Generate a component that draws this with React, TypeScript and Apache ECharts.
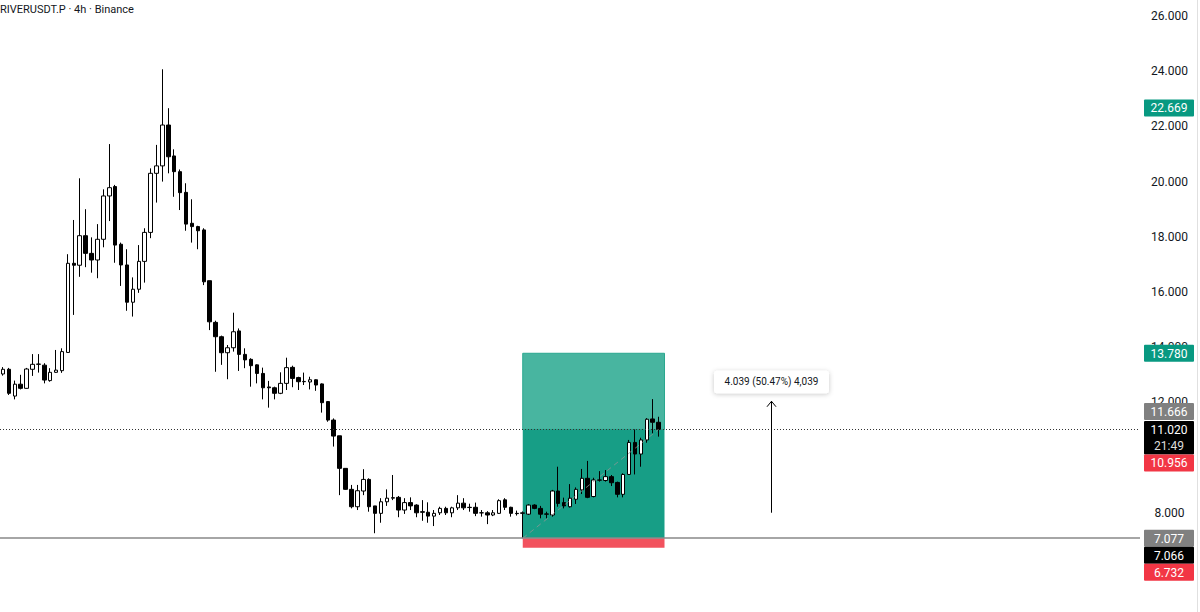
import React, { useEffect, useRef } from "react";
import * as echarts from "echarts";

const TITLE = "RIVERUSDT.P · 4h · Binance";

const opens = [
  13.03, 13.2, 12.23, 12.66, 12.51, 13.2, 13.38, 13.35, 12.79, 13.09,
  13.15, 13.81, 17.04, 16.97, 18.04, 17.4, 17.16, 17.91, 19.48, 19.82,
  17.73, 16.98, 15.63, 16.1, 17.11, 18.16, 20.3, 20.57, 22.05, 20.93,
  20.36, 19.61, 18.49, 18.37, 18.25, 16.41, 14.9, 14.38, 13.8, 13.98,
  14.59, 13.74, 13.56, 13.36, 13.05, 12.56, 12.53, 12.33, 12.69, 13.27,
  12.9, 12.75, 12.74, 12.82, 12.67, 12.03, 11.36, 10.79, 9.61, 8.85,
  8.22, 8.79, 9.21, 8.25, 7.98, 8.4, 8.53, 8.56, 8.1, 8.37,
  8.28, 8.04, 8.02, 7.88, 8.0, 8.16, 8.0, 8.18, 8.35, 8.2,
  8.2, 8.0, 8.0, 7.92, 7.98, 8.47, 8.2, 7.98, 7.98, 7.95,
  8.28, 8.16, 7.96, 7.92, 8.79, 8.37, 8.22, 8.49, 8.83, 9.25,
  8.59, 9.18, 9.17, 9.31, 9.1, 8.67, 9.39, 10.55, 10.13, 10.64,
  11.4, 11.28,
];
const closes = [
  13.2, 12.33, 12.66, 12.51, 13.21, 13.38, 13.39, 12.81, 13.09, 13.17,
  13.84, 17.04, 16.97, 18.04, 17.4, 17.16, 17.91, 19.48, 19.78, 17.7,
  16.98, 15.63, 16.1, 17.11, 18.16, 20.3, 20.57, 22.05, 20.9, 20.36,
  19.6, 18.46, 18.37, 18.22, 16.37, 14.92, 14.38, 13.8, 13.98, 14.56,
  13.74, 13.54, 13.33, 13.05, 12.53, 12.53, 12.33, 12.69, 13.26, 12.87,
  12.75, 12.76, 12.82, 12.63, 11.99, 11.36, 10.78, 9.61, 8.85, 8.22,
  8.8, 9.21, 8.22, 7.98, 8.4, 8.53, 8.55, 8.1, 8.37, 8.25,
  8.0, 8.02, 7.88, 7.98, 8.16, 8.0, 8.18, 8.35, 8.18, 8.19,
  7.98, 8.0, 7.92, 8.0, 8.44, 8.2, 7.98, 7.97, 8.0, 8.28,
  8.16, 7.95, 7.95, 8.79, 8.34, 8.25, 8.53, 8.85, 9.25, 8.56,
  9.19, 9.19, 9.31, 9.09, 8.67, 9.39, 10.55, 10.13, 10.64, 11.39,
  11.28, 11.02,
];
const lows = [
  12.97, 12.27, 12.11, 12.47, 12.5, 12.96, 13.08, 12.69, 12.75, 13.07,
  13.07, 13.8, 15.17, 16.55, 16.9, 16.7, 16.5, 17.62, 18.57, 17.06,
  16.22, 15.32, 15.11, 15.97, 16.34, 17.95, 19.24, 20.0, 20.3, 19.45,
  18.97, 18.22, 17.79, 17.55, 16.25, 14.62, 13.11, 13.36, 12.84, 13.84,
  13.14, 13.24, 12.57, 12.69, 12.11, 11.81, 12.11, 12.3, 12.45, 12.55,
  12.45, 12.63, 12.47, 12.42, 11.63, 11.3, 10.4, 8.64, 8.83, 8.16,
  8.1, 8.64, 8.04, 7.26, 7.64, 8.25, 8.46, 7.84, 7.96, 8.1,
  7.84, 7.71, 7.64, 7.52, 7.92, 7.92, 7.84, 8.1, 8.1, 8.04,
  7.88, 7.86, 7.59, 7.88, 7.96, 8.1, 7.86, 7.9, 7.08, 7.92,
  8.13, 7.8, 7.8, 7.86, 8.22, 8.16, 8.19, 8.32, 8.68, 8.53,
  8.56, 9.13, 9.13, 8.97, 8.56, 8.56, 9.37, 9.39, 9.67, 10.54,
  10.88, 10.76,
];
const highs = [
  13.28, 13.25, 12.79, 13.0, 13.25, 13.75, 13.75, 13.42, 13.24, 13.9,
  13.96, 17.37, 18.61, 20.12, 19.0, 17.98, 18.46, 19.72, 21.36, 19.88,
  17.79, 17.55, 16.53, 17.7, 18.31, 20.48, 21.33, 24.07, 22.66, 21.17,
  20.44, 19.94, 19.36, 18.4, 18.31, 16.41, 14.96, 14.42, 14.08, 15.25,
  14.68, 13.96, 13.6, 13.38, 13.26, 12.78, 12.57, 13.09, 13.62, 13.33,
  12.93, 13.08, 12.93, 12.84, 12.69, 12.05, 11.42, 10.79, 9.61, 9.01,
  9.01, 9.58, 9.25, 8.25, 8.53, 8.85, 9.37, 8.61, 8.53, 8.56,
  8.31, 8.46, 8.38, 8.1, 8.22, 8.22, 8.22, 8.64, 8.53, 8.33,
  8.37, 8.1, 8.06, 8.1, 8.49, 8.53, 8.22, 8.08, 8.05, 8.31,
  8.31, 8.25, 8.04, 8.83, 9.67, 8.55, 9.04, 8.92, 9.59, 9.88,
  9.27, 9.51, 9.55, 9.37, 9.13, 9.43, 10.64, 11.02, 10.72, 11.43,
  12.12, 11.48,
];

// Total number of bar slots visible across the plot (candles + empty future space)
const SLOT_COUNT = 193;

// Price axis (visible range and the tick labels left uncovered by the price tags)
const Y_MIN = 4.406;
const Y_MAX = 26.58;
const yTickValues = [8, 12, 14, 16, 18, 20, 22, 24, 26];

const LAST_PRICE = 11.02;
const COUNTDOWN = "21:49";
const HLINE_PRICE = 7.077;

// Long position tool
const POS_START = 88;
const POS_END = 112;
const POS_ENTRY = 7.077;
const POS_TARGET = 13.78;
const POS_STOP = 6.732;

// Price range measurement
const MEASURE_INDEX = 130;
const MEASURE_FROM = 8.003;
const MEASURE_TO = 12.042;
const MEASURE_TEXT = "4.039 (50.47%) 4,039";

// Price scale tags
const tagPrices = [22.669, 13.78, 11.666, 11.02, 10.956, 7.077, 7.066, 6.732];
const tagTexts = ["22.669", "13.780", "11.666", "11.020", "10.956", "7.077", "7.066", "6.732"];
const tagColors = ["#089981", "#089981", "#808080", "#000000", "#f23645", "#808080", "#000000", "#f23645"];
const tagSubs = ["", "", "", COUNTDOWN, "", "", "", ""];

const FONT = "Roboto, 'Noto Sans', Arial, sans-serif";

export default function App() {
  const ref = useRef<HTMLDivElement>(null);

  useEffect(() => {
    if (!ref.current) return;
    const chart = echarts.init(ref.current, undefined, { renderer: "svg" });

    const categories = Array.from({ length: SLOT_COUNT }, (_, i) => String(i));
    const candleData = opens.map((o, i) => [o, closes[i], lows[i], highs[i]]);

    chart.setOption({
      animation: false,
      backgroundColor: "#ffffff",
      grid: { left: -1.25, right: 60, top: 0, bottom: 0, containLabel: false },
      xAxis: {
        type: "category",
        data: categories,
        boundaryGap: true,
        show: false,
      },
      yAxis: {
        type: "value",
        position: "right",
        min: Y_MIN,
        max: Y_MAX,
        splitLine: { show: false },
        axisLine: { show: false },
        axisTick: { show: false },
        axisLabel: {
          customValues: yTickValues,
          color: "#131722",
          fontSize: 12,
          fontFamily: FONT,
          align: "center",
          margin: 29.5,
          formatter: (v: number) => v.toFixed(3),
        },
      },
      series: [
        {
          type: "line",
          data: [],
          z: 1,
          silent: true,
          markArea: {
            silent: true,
            z: 1,
            data: [
              [
                { xAxis: POS_START, yAxis: LAST_PRICE, itemStyle: { color: "#48b5a0", borderColor: "#2aa88f", borderWidth: 1 } },
                { xAxis: POS_END, yAxis: POS_TARGET },
              ],
              [
                { xAxis: POS_START, yAxis: POS_ENTRY, itemStyle: { color: "#179e86" } },
                { xAxis: POS_END, yAxis: LAST_PRICE },
              ],
              [
                { xAxis: POS_START, yAxis: POS_STOP, itemStyle: { color: "#f2525e" } },
                { xAxis: POS_END, yAxis: POS_ENTRY },
              ],
            ],
          },
        },
        {
          type: "candlestick",
          data: candleData,
          z: 3,
          barWidth: 4,
          itemStyle: {
            color: "#ffffff",
            color0: "#000000",
            borderColor: "#000000",
            borderColor0: "#000000",
            borderWidth: 1,
          },
          markLine: {
            silent: true,
            symbol: ["none", "none"],
            label: { show: false },
            z: 4,
            data: [
              [
                { coord: [POS_START, POS_ENTRY], lineStyle: { color: "rgba(150,150,150,0.75)", type: [5, 4], width: 1 } },
                { coord: [closes.length - 1, LAST_PRICE] },
              ],
              { yAxis: HLINE_PRICE, lineStyle: { color: "#888888", type: "solid", width: 1.5 } },
              { yAxis: LAST_PRICE, lineStyle: { color: "#333333", type: [1, 2], width: 1 } },
            ],
          },
        },
      ],
    });

    // Overlays positioned through the chart's own scales
    const px = (x: number, y: number) => chart.convertToPixel({ gridIndex: 0 }, [x, y]) as number[];
    const graphics: any[] = [];

    graphics.push({
      type: "text",
      x: 0,
      y: 9,
      z: 100,
      style: { text: TITLE, fill: "#131722", font: `11px ${FONT}`, align: "left", verticalAlign: "middle" },
    });

    // Measurement arrow
    const a0 = px(MEASURE_INDEX, MEASURE_FROM);
    const a1 = px(MEASURE_INDEX, MEASURE_TO);
    const ax = Math.round(a0[0]) + 0.5;
    graphics.push({
      type: "line",
      z: 50,
      shape: { x1: ax, y1: a0[1], x2: ax, y2: a1[1] },
      style: { stroke: "#000000", lineWidth: 1 },
    });
    graphics.push({
      type: "polyline",
      z: 50,
      shape: { points: [[ax - 4.5, a1[1] + 5.5], [ax, a1[1]], [ax + 4.5, a1[1] + 5.5]] },
      style: { stroke: "#000000", lineWidth: 1, fill: "none" },
    });
    const boxW = 115;
    const boxH = 22.5;
    const boxBottom = a1[1] - 8;
    graphics.push({
      type: "rect",
      z: 50,
      shape: { x: ax - boxW / 2, y: boxBottom - boxH, width: boxW, height: boxH, r: 3 },
      style: { fill: "#ffffff", shadowBlur: 5, shadowColor: "rgba(0,0,0,0.22)", shadowOffsetY: 1 },
    });
    graphics.push({
      type: "text",
      z: 51,
      style: {
        text: MEASURE_TEXT,
        x: ax,
        y: boxBottom - boxH / 2,
        fill: "#131722",
        font: `10px ${FONT}`,
        align: "center",
        verticalAlign: "middle",
      },
    });

    // Price scale tags (stacked like the trading platform does)
    const tagX = 1144;
    const tagW = 50;
    const tagH = 17;
    let prevBottom = -Infinity;
    tagPrices.forEach((p, i) => {
      const py = px(0, p)[1];
      const h = tagSubs[i] ? tagH * 2 - 0.5 : tagH;
      const top = Math.max(py - tagH / 2, prevBottom);
      prevBottom = top + h;
      graphics.push({
        type: "rect",
        z: 60,
        shape: { x: tagX, y: top, width: tagW, height: h, r: 1 },
        style: { fill: tagColors[i] },
      });
      graphics.push({
        type: "text",
        z: 61,
        style: {
          text: tagTexts[i],
          x: tagX + tagW / 2,
          y: top + tagH / 2 + 0.5,
          fill: "#ffffff",
          font: `12px ${FONT}`,
          align: "center",
          verticalAlign: "middle",
        },
      });
      if (tagSubs[i]) {
        graphics.push({
          type: "text",
          z: 61,
          style: {
            text: tagSubs[i],
            x: tagX + tagW / 2,
            y: top + tagH * 1.5,
            fill: "#dddddd",
            font: `12px ${FONT}`,
            align: "center",
            verticalAlign: "middle",
          },
        });
      }
    });

    graphics.push({
      type: "line",
      z: 60,
      shape: { x1: 1197.5, y1: 0, x2: 1197.5, y2: 612 },
      style: { stroke: "#e0e0e0", lineWidth: 1 },
    });

    chart.setOption({ graphic: graphics });

    return () => chart.dispose();
  }, []);

  return (
    <div
      ref={ref}
      style={{ position: "fixed", left: 0, top: 0, width: 1200, height: 612, background: "#fff" }}
    />
  );
}
